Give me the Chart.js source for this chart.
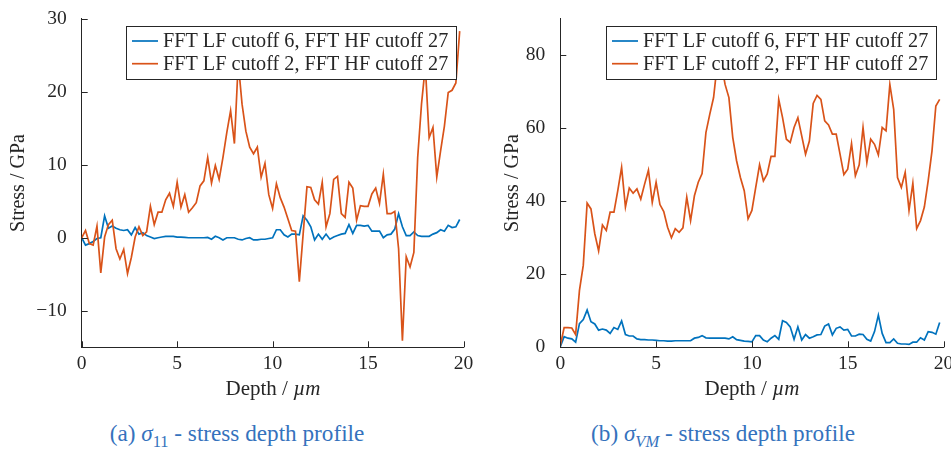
<!DOCTYPE html>
<html>
<head>
<meta charset="utf-8">
<script src="https://cdn.jsdelivr.net/npm/chart.js@4.4.0/dist/chart.umd.min.js"></script>
<style>
  body { margin: 0; width: 951px; height: 449px; overflow: hidden; background: #fff; position: relative; }
  .wrap { position: absolute; top: 0; width: 480px; height: 400px; }
  .txt { position: absolute; font-family: "Liberation Serif", serif; white-space: nowrap; transform: translateX(-50%); }
  .xt { top: 377px; color: #262626; font-size: 21px; line-height: 22px; }
  .cap { top: 421px; color: #3572bd; font-size: 23.2px; line-height: 24px; }
  sub { font-size: 16.5px; line-height: 0; }
</style>
</head>
<body>
<div class="wrap" style="left:0"><canvas id="chartA" width="480" height="400"></canvas></div>
<div class="wrap" style="left:480px"><canvas id="chartB" width="480" height="400"></canvas></div>
<div class="txt xt" style="left:273px">Depth / <i>µm</i></div>
<div class="txt xt" style="left:752px">Depth / <i>µm</i></div>
<div class="txt cap" style="left:237px">(a) <i>σ</i><sub>11</sub> - stress depth profile</div>
<div class="txt cap" style="left:723px">(b) <i>σ<sub>VM</sub></i> - stress depth profile</div>
<script>
// depth in micrometres
const depth = [0, 0.2, 0.4, 0.6, 0.8, 1, 1.2, 1.4, 1.6, 1.8,
  2, 2.2, 2.4, 2.6, 2.8, 3, 3.2, 3.4, 3.6, 3.8,
  4, 4.2, 4.4, 4.6, 4.8, 5, 5.2, 5.4, 5.6, 5.8,
  6, 6.2, 6.4, 6.6, 6.8, 7, 7.2, 7.4, 7.6, 7.8,
  8, 8.2, 8.4, 8.6, 8.8, 9, 9.2, 9.4, 9.6, 9.8,
  10, 10.2, 10.4, 10.6, 10.8, 11, 11.2, 11.4, 11.6, 11.8,
  12, 12.2, 12.4, 12.6, 12.8, 13, 13.2, 13.4, 13.6, 13.8,
  14, 14.2, 14.4, 14.6, 14.8, 15, 15.2, 15.4, 15.6, 15.8,
  16, 16.2, 16.4, 16.6, 16.8, 17, 17.2, 17.4, 17.6, 17.8,
  18, 18.2, 18.4, 18.6, 18.8, 19, 19.2, 19.4, 19.6, 19.8];

// sigma 11 (GPa)
const s11Lf6 = [0, -1.0, -0.8, -0.5, -0.1, 0, 3.0, 1.3, 1.6, 1.3,
  1.1, 1.0, 1.1, 0.4, 1.4, 0.5, 0.7, 0.3, 0.1, -0.1,
  0, 0.1, 0.2, 0.2, 0.2, 0.1, 0.1, 0.05, 0, 0,
  0, 0, 0, 0.05, -0.2, 0.2, 0, -0.3, 0, 0,
  0, -0.2, -0.3, -0.1, 0, -0.3, -0.3, -0.2, -0.2, -0.1,
  0, 1.1, 1.1, 0.4, 0.1, 0.5, 0.5, 0.4, 3.0, 2.4,
  1.5, -0.3, 0.5, -0.2, 0.5, -0.2, 0.1, 0.3, 0.5, 0.6,
  1.8, 0.6, 1.7, 1.7, 1.6, 1.7, 0.9, 0.9, 0.9, 0,
  0.4, 0.5, 1.2, 3.3, 1.5, 0.3, 0.3, 0.8, 0.3, 0.2,
  0.2, 0.2, 0.5, 0.7, 1.1, 0.9, 1.7, 1.4, 1.5, 2.5];
const s11Lf2 = [0, 1.0, -0.8, -1.0, 1.6, -4.8, 0.1, 1.8, 2.4, -1.5,
  -2.9, -1.6, -4.9, -2.7, 0.1, 1.5, 0.3, 0.8, 4.3, 1.8,
  3.5, 3.5, 5.2, 6.1, 4.3, 7.6, 4.2, 5.9, 3.5, 4.1,
  4.8, 7.1, 7.8, 11.0, 7.5, 9.9, 8.0, 11.0, 14.4, 17.4,
  12.9, 24.0, 18.3, 14.6, 12.4, 11.5, 12.4, 8.3, 10.2, 5.9,
  4.0, 7.4, 5.5, 4.2, 2.6, 1.0, 0.9, -6.0, 0.5, 7.0,
  6.9, 5.2, 4.6, 7.6, 1.5, 3.3, 8.0, 8.4, 3.3, 2.8,
  7.6, 6.8, 2.4, 4.4, 4.3, 4.3, 6.0, 6.8, 4.7, 8.7,
  3.3, 3.3, 3.6, -1.5, -14.1, -2.6, -4.0, -2.0, 11.0, 18.3,
  23.5, 13.7, 15.1, 8.3, 11.9, 15.3, 19.9, 20.2, 21.2, 28.3];

// von Mises (GPa)
const svmLf6 = [0.2, 2.9, 2.5, 2.3, 1.4, 6.5, 7.6, 10.2, 7.0, 6.4,
  4.7, 5.0, 4.7, 3.8, 5.4, 4.9, 7.2, 3.5, 3.1, 3.1,
  2.3, 2.1, 2.1, 2.0, 2.0, 1.9, 1.8, 1.8, 1.7, 1.7,
  1.8, 1.8, 1.8, 1.8, 1.8, 2.5, 2.7, 3.2, 2.6, 2.5,
  2.5, 2.5, 2.5, 2.5, 2.3, 2.9, 2.1, 1.9, 1.7, 1.6,
  1.5, 3.2, 3.2, 2.0, 1.5, 2.5, 3.2, 2.2, 7.3, 6.8,
  5.6, 2.2, 5.6, 2.0, 3.5, 2.5, 2.9, 3.4, 3.5, 5.8,
  6.4, 3.4, 5.2, 5.6, 4.7, 4.9, 3.1, 3.1, 3.6, 3.5,
  2.2, 1.7, 4.3, 8.8, 3.8, 1.3, 1.3, 2.3, 1.1, 0.9,
  0.9, 0.8, 1.4, 1.4, 2.6, 2.0, 4.3, 4.1, 3.6, 6.8];
const svmLf2 = [0.5, 5.4, 5.4, 5.3, 3.5, 15.6, 22.5, 39.5, 37.9, 31.1,
  26.4, 33.5, 32.0, 37.0, 37.0, 42.9, 49.3, 38.4, 43.6, 42.2,
  43.4, 40.6, 44.7, 48.5, 39.7, 45.2, 39.1, 37.2, 32.9, 30.0,
  32.5, 31.5, 32.7, 41.1, 34.7, 41.5, 45.2, 47.6, 58.8, 63.8,
  68.4, 78.0, 78.0, 72.0, 68.4, 57.5, 51.1, 46.5, 42.9, 35.2,
  37.5, 43.8, 50.0, 45.6, 47.5, 52.3, 52.3, 67.9, 62.9, 57.0,
  56.1, 60.2, 62.9, 57.9, 52.9, 56.5, 66.8, 69.0, 67.9, 62.0,
  60.9, 58.4, 58.4, 52.9, 47.3, 48.8, 55.8, 47.0, 50.0, 60.2,
  50.6, 57.0, 55.6, 52.7, 60.2, 59.3, 72.0, 65.2, 46.5, 43.8,
  47.9, 37.5, 44.9, 32.5, 34.7, 38.4, 45.6, 53.8, 66.1, 67.9];

const seriesLabels = ['FFT LF cutoff 6, FFT HF cutoff 27', 'FFT LF cutoff 2, FFT HF cutoff 27'];
const xTicks = [0, 5, 10, 15, 20];
const yTicksA = [-10, 0, 10, 20, 30];
const yTicksB = [0, 20, 40, 60, 80];

const FONT = '"Liberation Serif", serif';
const FSIZE = 19.5;
const INK = '#262626';
const BLUE = '#0072BD';
const ORANGE = '#D95319';

// legend drawn as a boxed overlay inside the plot (matlab style)
const boxLegend = {
  id: 'boxLegend',
  afterDatasetsDraw(chart) {
    const { ctx, chartArea: a } = chart;
    const ds = chart.data.datasets;
    ctx.save();
    ctx.font = '20.2px ' + FONT;
    const tw = Math.max(...ds.map(d => ctx.measureText(d.label).width));
    const w = Math.round(37 + tw + 8), h = 53;
    const x = Math.round(a.right - 8 - w), y = Math.round(a.top + 7);
    ctx.fillStyle = '#fff';
    ctx.fillRect(x, y, w, h);
    ctx.strokeStyle = INK;
    ctx.lineWidth = 1;
    ctx.strokeRect(x + 0.5, y + 0.5, w, h);
    ds.forEach((d, i) => {
      const cy = y + 15 + i * 22.7;
      ctx.strokeStyle = d.borderColor;
      ctx.lineWidth = 1.7;
      ctx.beginPath();
      ctx.moveTo(x + 6, cy);
      ctx.lineTo(x + 32, cy);
      ctx.stroke();
      ctx.fillStyle = INK;
      ctx.textBaseline = 'middle';
      ctx.fillText(d.label, x + 37, cy + 1);
    });
    ctx.restore();
  }
};

// inward tick marks
const innerTicks = {
  id: 'innerTicks',
  afterDraw(chart) {
    const { ctx, chartArea: a, scales } = chart;
    ctx.save();
    ctx.strokeStyle = INK;
    ctx.lineWidth = 1;
    ctx.beginPath();
    scales.x.ticks.forEach(t => {
      const px = Math.round(scales.x.getPixelForValue(t.value)) + 0.5;
      ctx.moveTo(px, a.bottom);
      ctx.lineTo(px, a.bottom - 6);
    });
    scales.y.ticks.forEach(t => {
      const py = Math.round(scales.y.getPixelForValue(t.value)) + 0.5;
      ctx.moveTo(a.left, py);
      ctx.lineTo(a.left + 6, py);
    });
    ctx.stroke();
    ctx.restore();
  }
};

function makeChart(id, lf6, lf2, yMin, yMax, yTicks, yAxisWidth, titlePad) {
  const pts = arr => arr.map((v, i) => ({ x: depth[i], y: v }));
  return new Chart(document.getElementById(id), {
    type: 'line',
    data: {
      datasets: [
        { label: seriesLabels[0], data: pts(lf6), borderColor: BLUE, borderWidth: 1.7, pointRadius: 0, order: 1 },
        { label: seriesLabels[1], data: pts(lf2), borderColor: ORANGE, borderWidth: 1.7, pointRadius: 0, order: 0 }
      ]
    },
    options: {
      responsive: false,
      animation: false,
      layout: { padding: { left: 0, top: 17.3, right: 16.5, bottom: 0 } },
      plugins: { legend: { display: false }, tooltip: { enabled: false } },
      scales: {
        x: {
          type: 'linear',
          min: 0, max: 20,
          afterBuildTicks: s => { s.ticks = xTicks.map(v => ({ value: v })); },
          afterFit: s => { s.height = 52.7; },
          grid: { display: false },
          border: { display: true, color: INK, width: 1 },
          ticks: { color: INK, padding: -3, maxRotation: 0, font: { family: FONT, size: FSIZE } }
        },
        y: {
          type: 'linear',
          min: yMin, max: yMax,
          afterBuildTicks: s => { s.ticks = yTicks.map(v => ({ value: v })); },
          afterFit: s => { s.width = yAxisWidth; },
          grid: { display: false },
          border: { display: true, color: INK, width: 1 },
          ticks: {
            color: INK, padding: 7, font: { family: FONT, size: FSIZE },
            callback: v => (v < 0 ? '\u2212' + Math.abs(v) : String(v))
          },
          title: {
            display: true, text: 'Stress / GPa', color: INK,
            font: { family: FONT, size: 20 }, padding: { top: titlePad, bottom: 0 }
          }
        }
      }
    },
    plugins: [boxLegend, innerTicks]
  });
}

makeChart('chartA', s11Lf6, s11Lf2, -15, 30, yTicksA, 81.7, 7);
makeChart('chartB', svmLf6, svmLf2, 0, 90, yTicksB, 80.3, 21);
</script>
</body>
</html>
